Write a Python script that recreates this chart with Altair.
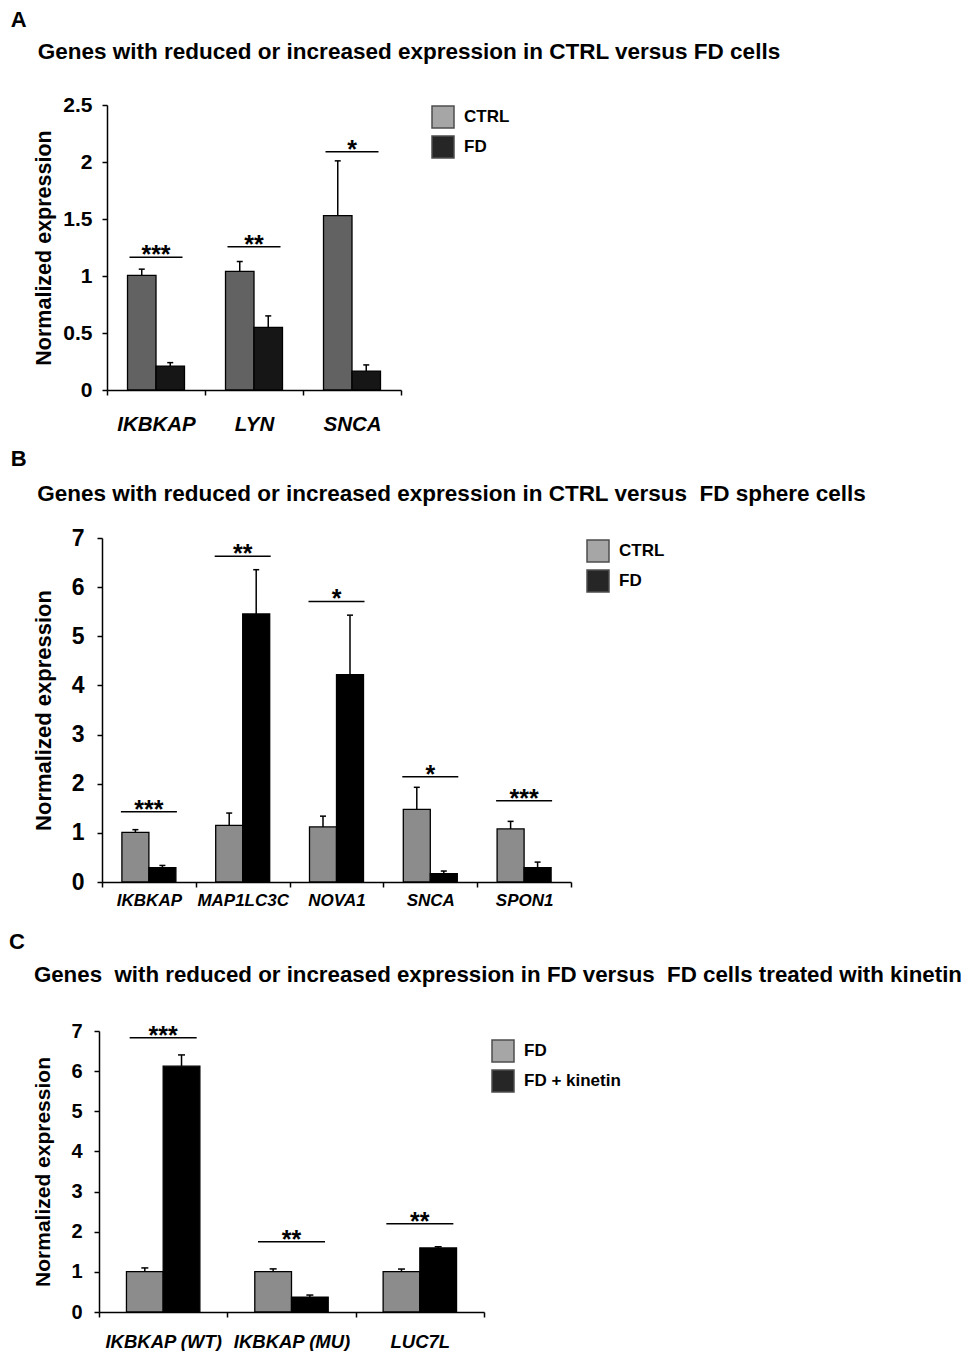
import altair as alt
import pandas as pd

FONT = "Liberation Sans"
NB = "\u00a0"

# ---------------- Panel A ----------------
a_title = "Genes with reduced or increased expression in CTRL versus FD cells"
a_genes = ["IKBKAP", "LYN", "SNCA"]
a_groups = ["CTRL", "FD"]
a_ctrl = [1.005, 1.04, 1.53]
a_ctrl_err = [0.055, 0.087, 0.48]
a_fd = [0.21, 0.55, 0.166]
a_fd_err = [0.03, 0.10, 0.054]
a_sig_y = [1.165, 1.257, 2.09]
a_sig = ["***", "**", "*"]
a_ticks = [0, 0.5, 1, 1.5, 2, 2.5]

# ---------------- Panel B ----------------
b_title = "Genes with reduced or increased expression in CTRL versus" + NB + " FD sphere cells"
b_genes = ["IKBKAP", "MAP1LC3C", "NOVA1", "SNCA", "SPON1"]
b_groups = ["CTRL", "FD"]
b_ctrl = [1.01, 1.153, 1.12, 1.477, 1.079]
b_ctrl_err = [0.055, 0.25, 0.22, 0.45, 0.155]
b_fd = [0.29, 5.455, 4.22, 0.169, 0.29]
b_fd_err = [0.047, 0.90, 1.21, 0.054, 0.115]
b_sig_y = [1.43, 6.63, 5.71, 2.144, 1.652]
b_sig = ["***", "**", "*", "*", "***"]
b_ticks = [0, 1, 2, 3, 4, 5, 6, 7]

# ---------------- Panel C ----------------
c_title = ("Genes" + NB + " with reduced or increased expression in FD versus" + NB +
           " FD cells treated with kinetin")
c_genes = ["IKBKAP (WT)", "IKBKAP (MU)", "LUC7L"]
c_groups = ["FD", "FD + kinetin"]
c_fd = [1.008, 1.008, 1.008]
c_fd_err = [0.09, 0.066, 0.062]
c_kin = [6.124, 0.372, 1.595]
c_kin_err = [0.28, 0.05, 0.03]
c_sig_y = [6.83, 1.75, 2.2]
c_sig = ["***", "**", "**"]
c_ticks = [0, 1, 2, 3, 4, 5, 6, 7]


def make_panel(letter, title, genes, groups, v1, e1, v2, e2, sig_y, sig_txt,
               bar_colors, legend_colors, y_max, y_ticks, cfg):
    rows = []
    for i, g in enumerate(genes):
        rows.append(dict(gene=g, group=groups[0], value=v1[i], top=v1[i] + e1[i], fill=bar_colors[0]))
        rows.append(dict(gene=g, group=groups[1], value=v2[i], top=v2[i] + e2[i], fill=bar_colors[1]))
    df = pd.DataFrame(rows)
    sig_df = pd.DataFrame(dict(gene=genes, y=sig_y, label=sig_txt))

    shift = cfg["shift"]
    total_w = cfg["width"] + shift
    xscale = alt.Scale(domain=genes, paddingInner=0, paddingOuter=0, range=[shift, total_w])
    x_axis = alt.Axis(title=None, labelAngle=0, labelFont=FONT, labelFontSize=cfg["xlabel_size"],
                      labelFontWeight="bold", labelFontStyle="italic", labelColor="black",
                      labelPadding=cfg["xlabel_pad"], tickBand="extent", tickSize=5,
                      tickColor="black", tickWidth=1.5, domainColor="black", domainWidth=1.5)
    x = alt.X("gene:N", scale=xscale, sort=genes, axis=x_axis)
    xoff = alt.XOffset("group:N", sort=groups,
                       scale=alt.Scale(domain=groups, paddingInner=0, paddingOuter=cfg["off_pad"]))
    y_axis = alt.Axis(values=y_ticks, format="~g", grid=False, labelFont=FONT,
                      labelFontSize=cfg["ylabel_size"], labelFontWeight="bold", labelColor="black",
                      labelPadding=cfg["ylabel_pad"], tickSize=5, tickColor="black", tickWidth=1.5,
                      domainColor="black", domainWidth=1.5, titleFont=FONT,
                      titleFontSize=cfg["ytitle_size"], titleFontWeight="bold", titleColor="black",
                      titlePadding=cfg["ytitle_pad"], offset=-shift)
    y = alt.Y("value:Q", scale=alt.Scale(domain=[0, y_max], nice=False, zero=True),
              axis=y_axis, title="Normalized expression")

    base = alt.Chart(df)
    bars = base.mark_bar(stroke="black", strokeWidth=1.3).encode(
        x=x, xOffset=xoff, y=y, color=alt.Color("fill:N", scale=None))
    err = base.mark_rule(color="black", strokeWidth=1.5).encode(
        x=x, xOffset=xoff, y="value:Q", y2="top:Q")
    caps = base.mark_tick(color="black", thickness=1.5, size=cfg["cap_len"], opacity=1).encode(
        x=x, xOffset=xoff, y="top:Q")
    sig_base = alt.Chart(sig_df)
    sig_line = sig_base.mark_tick(color="black", thickness=1.5, size=cfg["sig_len"], opacity=1).encode(
        x=alt.X("gene:N", sort=genes), y="y:Q")
    stars = sig_base.mark_text(font=FONT, fontSize=25, fontWeight="bold", color="black",
                               baseline="alphabetic", dy=6).encode(
        x=alt.X("gene:N", sort=genes), y="y:Q", text="label:N")
    legend = alt.Legend(title=None, orient="none", legendX=cfg["legend_x"], legendY=cfg["legend_y"],
                        symbolType="square", symbolSize=484, symbolStrokeColor="#4d4d4d",
                        symbolStrokeWidth=1.5, symbolOpacity=1, labelFont=FONT, labelFontSize=17,
                        labelFontWeight="bold", labelColor="black", labelOffset=9, rowPadding=2,
                        padding=0)
    leg_layer = base.transform_filter("false").mark_square(opacity=1, filled=True).encode(
        fill=alt.Fill("group:N", scale=alt.Scale(domain=groups, range=legend_colors), legend=legend))

    inner_title = alt.TitleParams(
        text=title, anchor="start", frame="bounds", dx=cfg["title_dx"],
        offset=cfg["title_offset"], font=FONT, fontSize=cfg["title_size"],
        fontWeight="bold", color="black")
    inner = alt.layer(bars, err, caps, sig_line, stars, leg_layer).properties(
        width=total_w, height=cfg["height"], title=inner_title)

    letter_title = alt.TitleParams(
        text=letter, anchor="start", frame="bounds", dx=cfg["letter_dx"],
        offset=cfg["letter_offset"], font=FONT, fontSize=22, fontWeight="bold", color="black")
    return alt.concat(inner, columns=1, align="none", title=letter_title).resolve_scale(
        fill="independent", xOffset="independent")


cfg_a = dict(width=294, shift=8, height=285, off_pad=0.72, xlabel_size=20.5, xlabel_pad=19,
             ylabel_size=21, ylabel_pad=10, ytitle_size=21.5, ytitle_pad=7,
             legend_x=332, legend_y=0, sig_len=53, cap_len=6, title_dx=4,
             title_offset=31, title_size=22.5, letter_dx=-23, letter_offset=9)
cfg_b = dict(width=469, shift=3, height=344, off_pad=0.737, xlabel_size=17, xlabel_pad=5,
             ylabel_size=23, ylabel_pad=13, ytitle_size=22, ytitle_pad=15.5,
             legend_x=487, legend_y=1, sig_len=56, cap_len=6, title_dx=4.5,
             title_offset=22, title_size=22.5, letter_dx=-22, letter_offset=12)
cfg_c = dict(width=385, shift=0, height=281, off_pad=0.748, xlabel_size=18.5, xlabel_pad=15,
             ylabel_size=20, ylabel_pad=12, ytitle_size=21, ytitle_pad=17,
             legend_x=392, legend_y=8, sig_len=67, cap_len=7, title_dx=1,
             title_offset=35, title_size=22.3, letter_dx=-24, letter_offset=10)

panel_a = make_panel("A", a_title, a_genes, a_groups, a_ctrl, a_ctrl_err, a_fd, a_fd_err,
                     a_sig_y, a_sig, ["#626262", "#161616"], ["#a6a6a6", "#262626"], 2.5, a_ticks, cfg_a)
panel_b = make_panel("B", b_title, b_genes, b_groups, b_ctrl, b_ctrl_err, b_fd, b_fd_err,
                     b_sig_y, b_sig, ["#8c8c8c", "#000000"], ["#a6a6a6", "#262626"], 7, b_ticks, cfg_b)
panel_c = make_panel("C", c_title, c_genes, c_groups, c_fd, c_fd_err, c_kin, c_kin_err,
                     c_sig_y, c_sig, ["#8c8c8c", "#000000"], ["#a6a6a6", "#262626"], 7, c_ticks, cfg_c)

lower = alt.concat(panel_b, panel_c, columns=1, spacing=22, align="none").resolve_scale(
    fill="independent", xOffset="independent")
chart = alt.concat(panel_a, lower, columns=1, spacing=12, align="none").resolve_scale(
    fill="independent", xOffset="independent").properties(
    padding={"left": 0, "top": 0, "right": 0, "bottom": 0}
).configure(font=FONT).configure_view(stroke=None)

chart.save("out.html", embed_options={"renderer": "svg", "actions": False})
